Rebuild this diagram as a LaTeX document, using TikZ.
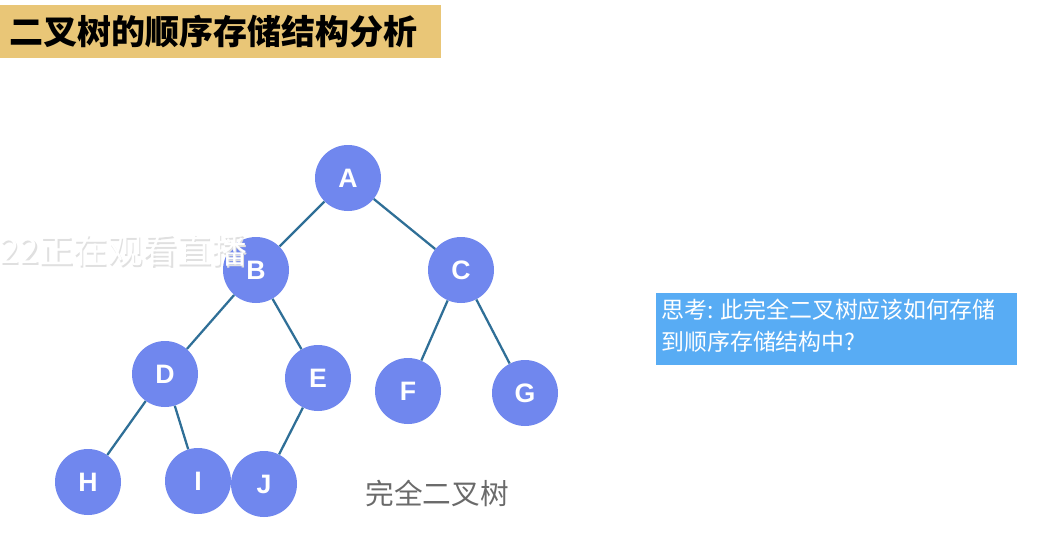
\documentclass[tikz,border=0pt]{standalone}
\usepackage{fontspec}
\setsansfont{Liberation Sans}
\newfontfamily\cjk{Noto Sans CJK SC}
\definecolor{titlegold}{HTML}{E9C677}
\definecolor{nodeblue}{HTML}{7087EE}
\definecolor{edgeteal}{HTML}{2F6F97}
\definecolor{noteblue}{HTML}{58ACF4}
\definecolor{capgray}{HTML}{6A6A6A}
\tikzset{
  treenode/.style={circle,fill=nodeblue,text=white,minimum size=49.5pt,inner sep=0pt,
                   font=\sffamily\bfseries\fontsize{20}{20}\selectfont},
  treeedge/.style={edgeteal,line width=1.7pt},
}

\begin{document}
\begin{tikzpicture}[x=0.75pt,y=-0.75pt]

  \useasboundingbox (0,0) rectangle (1046,536);
  \fill[white] (0,0) rectangle (1046,536);

  % ---- title bar ----
  \fill[titlegold] (0,5) rectangle (441,58);
  \node[anchor=west,inner sep=0pt,font=\cjk\bfseries\fontsize{25.5}{25.5}\selectfont] (title)
        at (9,31) {二叉树的顺序存储结构分析};

  % ---- tree nodes ----
  \node[treenode] (A) at (348,178) {A};
  \node[treenode] (B) at (256,270) {B};
  \node[treenode] (C) at (461,270) {C};
  \node[treenode] (D) at (165,374) {D};
  \node[treenode] (E) at (318,378) {E};
  \node[treenode] (F) at (408,391) {F};
  \node[treenode] (G) at (525,393) {G};
  \node[treenode] (H) at (88,482)  {H};
  \node[treenode] (I) at (198,481) {I};
  \node[treenode] (J) at (264,484) {J};

  % ---- edges ----
  \foreach \p/\c in {A/B, A/C, B/D, B/E, C/F, C/G, D/H, D/I, E/J}
    \draw[treeedge] (\p) -- (\c);

  % ---- caption ----
  \node[text=capgray,font=\cjk\fontsize{21.5}{21.5}\selectfont] (cap)
        at (437,493) {完全二叉树};

  % ---- question box ----
  \fill[noteblue] (656,293) rectangle (1017,365);
  \node[anchor=north west,align=left,inner sep=0pt,text=white,
        font=\cjk\fontsize{17.2}{24}\selectfont] (ask)
        at (661,299) {思考: 此完全二叉树应该如何存储\\到顺序存储结构中?};

  % ---- live watermark (on top) ----
  \node[anchor=west,inner sep=0pt,text=black!12,font=\cjk\fontsize{26}{26}\selectfont]
        (markshadow) at (1.5,252) {22正在观看直播};
  \node[anchor=west,inner sep=0pt,text=white,font=\cjk\fontsize{26}{26}\selectfont]
        (mark) at (0,250) {22正在观看直播};

\end{tikzpicture}
\end{document}
